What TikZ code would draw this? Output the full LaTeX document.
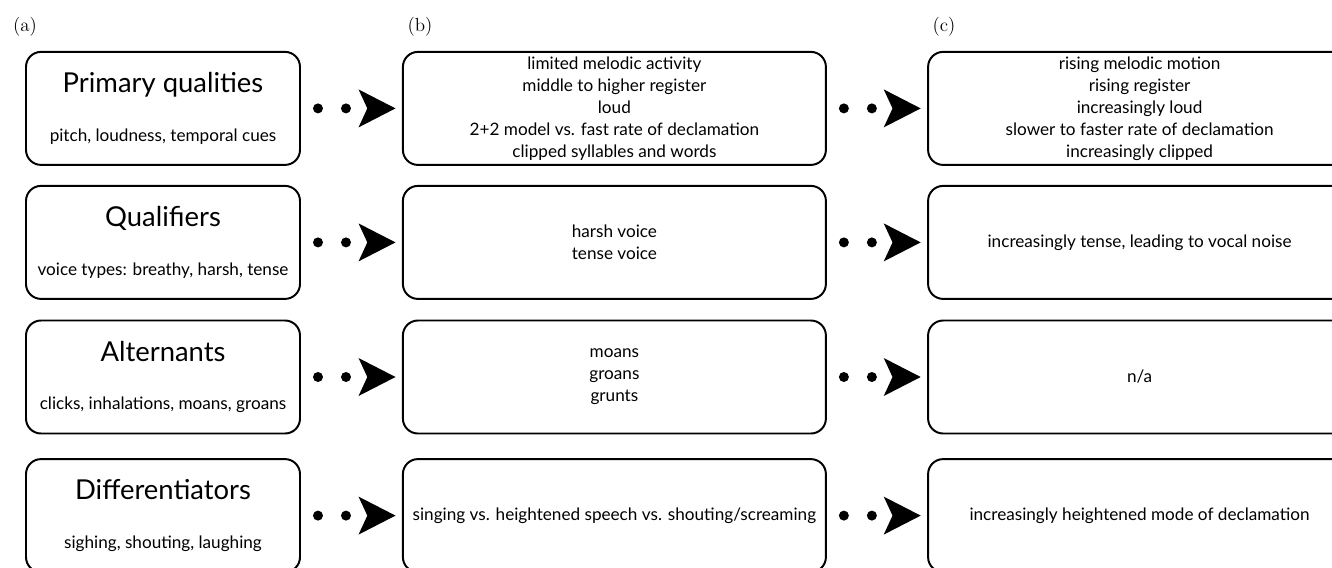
\documentclass[tikz,border=0pt]{standalone}
\usepackage{fontspec}
\newfontfamily\gillfont{Lato}
\usetikzlibrary{arrows.meta}
\tikzset{every path/.style={black},
  card/.style={draw, line width=1.4pt, rounded corners=0.375cm, minimum width=10.575cm, minimum height=2.825cm, inner sep=0pt, align=center, font=\gillfont\fontsize{12.2}{15.6}\selectfont},
  kind/.style={card, minimum width=6.85cm},
  tag/.style={font=\fontsize{13.5}{16}\selectfont},
  link/.style={line width=0.25cm, line cap=round, dash pattern=on 0pt off 0.7cm, shorten <=0.425cm, shorten >=0.16cm, -{Stealth[length=0.925cm 0, width=0.95cm 0, inset=0.22cm 0, line width=0pt]}}}
\newcommand{\headline}[1]{{\fontsize{19.5}{22}\selectfont #1}\\[19pt]}

\begin{document}
\begin{tikzpicture}
  \useasboundingbox (0,0) rectangle (33.3,-14.2);

  \node[tag] (la) at ( 0.625,-0.66) {(a)};
  \node[tag] (lb) at (10.5  ,-0.66) {(b)};
  \node[tag] (lc) at (23.6  ,-0.66) {(c)};

  \node[kind] (pa) at ( 4.075, -2.71) {\headline{Primary qualities}pitch, loudness, temporal cues};
  \node[kind] (qa) at ( 4.075, -6.06) {\headline{Qualifiers}voice types: breathy, harsh, tense};
  \node[kind] (aa) at ( 4.075, -9.425) {\headline{Alternants}clicks, inhalations, moans, groans};
  \node[kind] (da) at ( 4.075,-12.89) {\headline{Differentiators}sighing, shouting, laughing};

  \node[card] (pb) at (15.36, -2.71) {limited melodic activity\\middle to higher register\\loud\\2+2 model vs. fast rate of declamation\\clipped syllables and words};
  \node[card] (qb) at (15.36, -6.06) {harsh voice\\tense voice};
  \node[card] (ab) at (15.36, -9.425) {moans\\groans\\grunts};
  \node[card] (db) at (15.36,-12.89) {singing vs. heightened speech vs. shouting/screaming};

  \node[card] (pc) at (28.49, -2.71) {rising melodic motion\\rising register\\increasingly loud\\slower to faster rate of declamation\\increasingly clipped};
  \node[card] (qc) at (28.49, -6.06) {increasingly tense, leading to vocal noise};
  \node[card] (ac) at (28.49, -9.425) {n/a};
  \node[card] (dc) at (28.49,-12.89) {increasingly heightened mode of declamation};

  \draw[link] (pa) -- (pb);
  \draw[link] (qa) -- (qb);
  \draw[link] (aa) -- (ab);
  \draw[link] (da) -- (db);
  \draw[link] (pb) -- (pc);
  \draw[link] (qb) -- (qc);
  \draw[link] (ab) -- (ac);
  \draw[link] (db) -- (dc);
\end{tikzpicture}
\end{document}
